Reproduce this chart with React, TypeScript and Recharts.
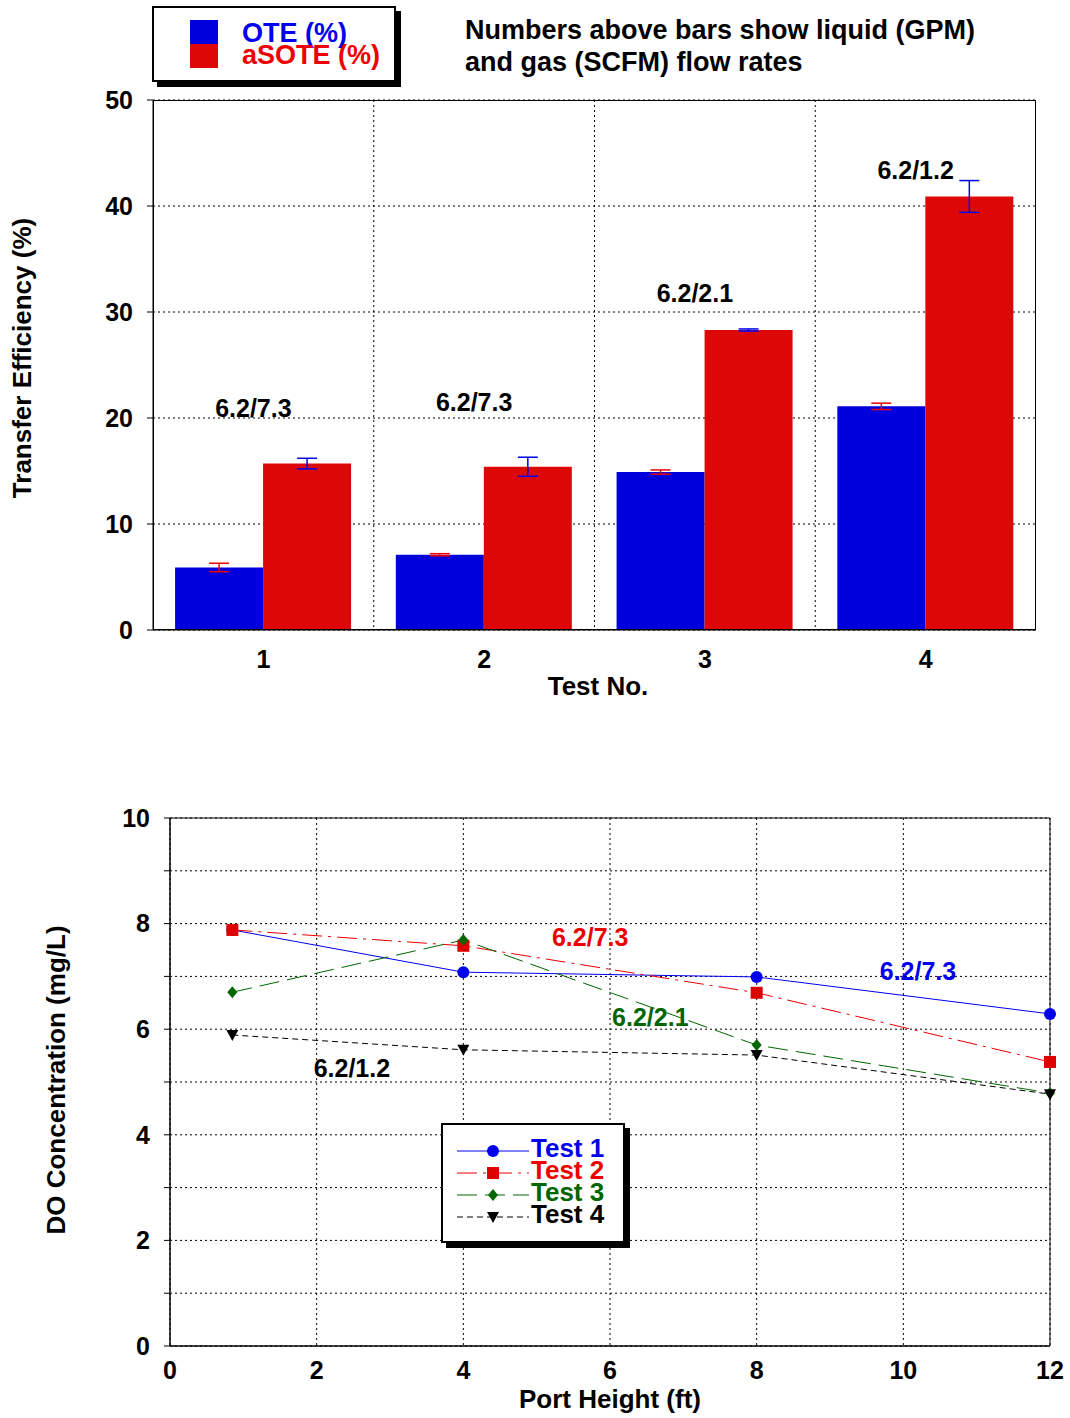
import { BarChart, Bar, XAxis, YAxis, CartesianGrid, ErrorBar, ReferenceDot, ReferenceArea, LineChart, Line } from 'recharts';

const tests = ['1', '2', '3', '4'];
const ote = [5.9, 7.1, 14.9, 21.1];
const oteErr = [0.4, 0.1, 0.2, 0.3];
const asote = [15.7, 15.4, 28.3, 40.9];
const asoteErr = [0.5, 0.9, 0.1, 1.5];
const barLabels = ['6.2/7.3', '6.2/7.3', '6.2/2.1', '6.2/1.2'];
const barLabelY = [20.9, 21.5, 31.8, 43.4];

const ports = [0.85, 4, 8, 12];
const test1 = [7.88, 7.08, 6.99, 6.29];
const test2 = [7.88, 7.58, 6.69, 5.38];
const test3 = [6.7, 7.69, 5.7, 4.79];
const test4 = [5.89, 5.61, 5.51, 4.77];

const lineLabels = [
  { x: 5.73, y: 7.75, text: '6.2/7.3', color: '#ee0000' },
  { x: 10.2, y: 7.1, text: '6.2/7.3', color: '#0000ee' },
  { x: 6.55, y: 6.23, text: '6.2/2.1', color: '#006600' },
  { x: 2.48, y: 5.27, text: '6.2/1.2', color: '#000000' },
];

const FONT = '"Liberation Sans", Arial, sans-serif';
const tickStyle = { fontSize: 25, fontWeight: 'bold', fill: '#000', fontFamily: FONT };

const barData = tests.map((t, i) => ({ test: t, ote: ote[i], oteErr: oteErr[i], asote: asote[i], asoteErr: asoteErr[i] }));
const lineData = ports.map((p, i) => ({ x: p, t1: test1[i], t2: test2[i], t3: test3[i], t4: test4[i] }));

const mk = (kind: string, color: string) => (p: any) => {
  const { cx, cy, key } = p;
  if (cx == null) return <g key={key} />;
  if (kind === 'circle') return <circle key={key} cx={cx} cy={cy} r={6} fill={color} />;
  if (kind === 'square') return <rect key={key} x={cx - 6} y={cy - 6} width={12} height={12} fill={color} />;
  if (kind === 'diamond') return <path key={key} d={`M${cx},${cy - 6}L${cx + 5},${cy}L${cx},${cy + 6}L${cx - 5},${cy}Z`} fill={color} />;
  return <path key={key} d={`M${cx - 6},${cy - 5}L${cx + 6},${cy - 5}L${cx},${cy + 6}Z`} fill={color} />;
};

const text = (s: any) => ({ position: 'absolute' as const, fontFamily: FONT, fontWeight: 'bold' as const, fontSize: 26, whiteSpace: 'nowrap' as const, ...s });

export default function App() {
  return (
    <div style={{ position: 'absolute', left: 0, top: 0, width: 1070, height: 1418, background: '#fff' }}>
      <div style={{ position: 'absolute', left: 0, top: 0 }}>
        <BarChart width={1070} height={720} data={barData} margin={{ top: 100, left: 93, right: 34, bottom: 30 }} barCategoryGap="10%" barGap={0}>
          <CartesianGrid stroke="#000" strokeDasharray="2 3"
            verticalCoordinatesGenerator={({ offset }: any) => [1, 2, 3].map((k) => offset.left + (offset.width * k) / 4)} />
          <XAxis dataKey="test" tick={tickStyle} tickLine={false} stroke="#000" height={60} tickMargin={14} />
          <YAxis domain={[0, 50]} ticks={[0, 10, 20, 30, 40, 50]} tick={tickStyle} stroke="#000" width={60} tickSize={6} tickMargin={14} />
          <Bar dataKey="ote" fill="#0000dd" isAnimationActive={false}>
            <ErrorBar dataKey="oteErr" stroke="#ee0000" width={10} />
          </Bar>
          <Bar dataKey="asote" fill="#dd0707" isAnimationActive={false}>
            <ErrorBar dataKey="asoteErr" stroke="#0000ee" width={10} />
          </Bar>
          {tests.map((t, i) => (
            <ReferenceDot key={t} x={t} y={barLabelY[i]} r={0} label={{ value: barLabels[i], fontSize: 25, fontWeight: 'bold', fill: '#000', fontFamily: FONT, position: 'center', dx: -10 }} />
          ))}
        </BarChart>
      </div>
      <div style={{ position: 'absolute', left: 153, top: 100, width: 883, height: 530, border: '1px solid #000', boxSizing: 'border-box', pointerEvents: 'none' }} />
      <div style={text({ left: 22, top: 358, transform: 'translate(-50%,-50%) rotate(-90deg)' })}>Transfer Efficiency (%)</div>
      <div style={text({ left: 598, top: 686, transform: 'translate(-50%,-50%)' })}>Test No.</div>
      <div style={text({ left: 465, top: 14, lineHeight: '32px', fontSize: 27 })}>Numbers above bars show liquid (GPM)<br />and gas (SCFM) flow rates</div>
      <div style={{ position: 'absolute', left: 152, top: 6, width: 240, height: 72, border: '2px solid #000', boxShadow: '5px 5px 0 #000', background: '#fff' }}>
        <div style={{ position: 'absolute', left: 36, top: 12, width: 28, height: 24, background: '#0000dd' }} />
        <div style={{ position: 'absolute', left: 36, top: 36, width: 28, height: 24, background: '#dd0707' }} />
        <div style={text({ left: 88, top: 10, color: '#0000ee', fontSize: 27 })}>OTE (%)</div>
        <div style={text({ left: 88, top: 32, color: '#ee0000', fontSize: 27 })}>aSOTE (%)</div>
      </div>

      <div style={{ position: 'absolute', left: 0, top: 760 }}>
        <LineChart width={1070} height={658} data={lineData} margin={{ top: 58, left: 110, right: 20, bottom: 32 }}>
          <CartesianGrid stroke="#000" strokeDasharray="2 3" />
          <XAxis dataKey="x" type="number" domain={[0, 12]} ticks={[0, 2, 4, 6, 8, 10, 12]} tick={tickStyle} tickLine={false} stroke="#000" height={40} tickMargin={9} />
          <YAxis domain={[0, 10]} ticks={[0, 1, 2, 3, 4, 5, 6, 7, 8, 9, 10]} tickFormatter={(v: number) => (v % 2 === 0 ? String(v) : '')} tick={tickStyle} stroke="#000" width={60} tickSize={6} tickMargin={14} />
          <ReferenceArea x1={0} x2={12} y1={0} y2={10} fill="none" stroke="#000" />
          <Line dataKey="t1" stroke="#0000ee" strokeWidth={1} dot={mk('circle', '#0000ee')} isAnimationActive={false} />
          <Line dataKey="t2" stroke="#ee0000" strokeWidth={1} strokeDasharray="20 6 3 6" dot={mk('square', '#dd0000')} isAnimationActive={false} />
          <Line dataKey="t3" stroke="#006600" strokeWidth={1} strokeDasharray="20 8" dot={mk('diamond', '#006600')} isAnimationActive={false} />
          <Line dataKey="t4" stroke="#000" strokeWidth={1} strokeDasharray="6 4" dot={mk('tri', '#000')} isAnimationActive={false} />
          {lineLabels.map((l, i) => (
            <ReferenceDot key={i} x={l.x} y={l.y} r={0} label={{ value: l.text, fontSize: 25, fontWeight: 'bold', fill: l.color, fontFamily: FONT, position: 'center' }} />
          ))}
        </LineChart>
      </div>
      <div style={text({ left: 56, top: 1080, transform: 'translate(-50%,-50%) rotate(-90deg)' })}>DO Concentration (mg/L)</div>
      <div style={text({ left: 610, top: 1399, transform: 'translate(-50%,-50%)' })}>Port Height (ft)</div>
      <div style={{ position: 'absolute', left: 441, top: 1123, width: 180, height: 116, border: '2px solid #000', boxShadow: '5px 5px 0 #000', background: '#fff' }}>
        <svg width={80} height={116} style={{ position: 'absolute', left: 10, top: 0 }}>
          <line x1={4} x2={76} y1={26} y2={26} stroke="#0000ee" />
          <circle cx={40} cy={26} r={6} fill="#0000ee" />
          <line x1={4} x2={76} y1={48} y2={48} stroke="#ee0000" strokeDasharray="20 6 3 6" />
          <rect x={34} y={42} width={12} height={12} fill="#dd0000" />
          <line x1={4} x2={76} y1={70} y2={70} stroke="#006600" strokeDasharray="20 8" />
          <path d="M40,64L45,70L40,76L35,70Z" fill="#006600" />
          <line x1={4} x2={76} y1={92} y2={92} stroke="#000" strokeDasharray="6 4" />
          <path d="M34,87L46,87L40,98Z" fill="#000" />
        </svg>
        <div style={text({ left: 88, top: 12, color: '#0000ee', lineHeight: '22px' })}>Test 1</div>
        <div style={text({ left: 88, top: 34, color: '#ee0000', lineHeight: '22px' })}>Test 2</div>
        <div style={text({ left: 88, top: 56, color: '#006600', lineHeight: '22px' })}>Test 3</div>
        <div style={text({ left: 88, top: 78, color: '#000', lineHeight: '22px' })}>Test 4</div>
      </div>
    </div>
  );
}
